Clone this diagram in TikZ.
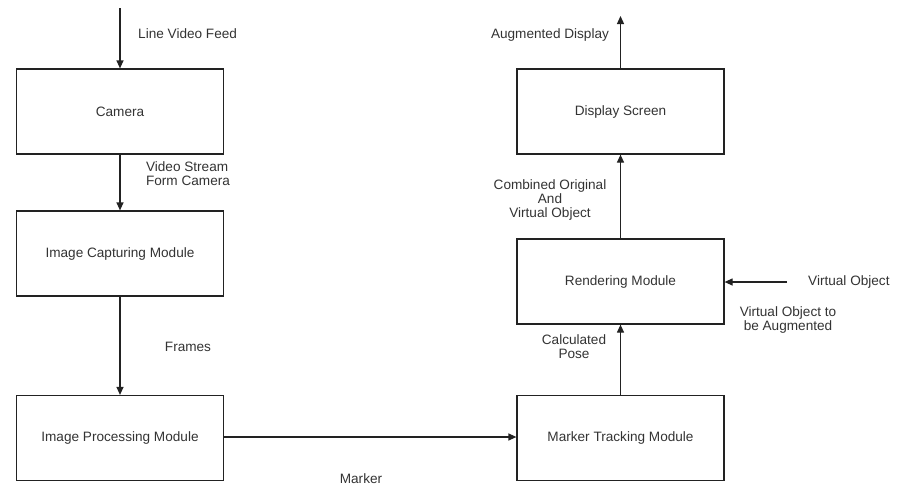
\documentclass[tikz,border=0pt]{standalone}
\usepackage{fontspec}
\setmainfont{Liberation Sans}
\usetikzlibrary{arrows.meta}
\definecolor{ink}{HTML}{222222}
\definecolor{txt}{HTML}{333333}
\begin{document}
\begin{tikzpicture}[x=1pt,y=-1pt,
  font=\fontsize{13.6}{14}\selectfont,
  box/.style={draw=ink,line width=1.2pt,minimum width=207pt,minimum height=85pt,inner sep=0pt,text=txt},
  lbl/.style={inner sep=0pt,text=txt,align=center},
  flow/.style={draw=ink,line width=1.2pt,-{Triangle[length=8pt,width=7pt]}}]
\useasboundingbox (0,0) rectangle (897,485);
\node[box] (cam) at (120,111.5) {Camera};
\node[box] (icm) at (120,253.5) {Image Capturing Module};
\node[box] (ipm) at (120,438) {Image Processing Module};
\node[box] (mtm) at (620.5,438) {Marker Tracking Module};
\node[box] (ren) at (620.5,281.5) {Rendering Module};
\node[box] (dis) at (620.5,111.5) {Display Screen};
\coordinate (in) at (120,8);
\coordinate (out) at (620.5,16);
\coordinate (vo) at (787,282);
\draw[flow] (in) -- (cam.north);
\draw[flow] (cam) -- (icm);
\draw[flow] (icm) -- (ipm);
\draw[flow] (ipm.east |- 0,437) -- (mtm.west |- 0,437);
\draw[flow] (mtm) -- (ren);
\draw[flow] (ren.north) -- (dis.south);
\draw[flow] (dis.north) -- (out);
\draw[flow] (vo) -- (ren.east |- vo);
\node[lbl,anchor=west] (l1) at (138,34) {Line Video Feed};
\node[lbl,align=left] (l2) at (188,174) {Video Stream\\Form Camera};
\node[lbl] (l3) at (188,347) {Frames};
\node[lbl] (l4) at (361,479) {Marker};
\node[lbl] (l5) at (574,347) {Calculated\\Pose};
\node[lbl] (l6) at (550,200) {Combined Original\\And\\Virtual Object};
\node[lbl] (l7) at (550,35) {Augmented Display};
\node[lbl,anchor=west] (l8) at (808,282) {Virtual Object};
\node[lbl] (l9) at (788,320) {Virtual Object to\\be Augmented};
\end{tikzpicture}
\end{document}
